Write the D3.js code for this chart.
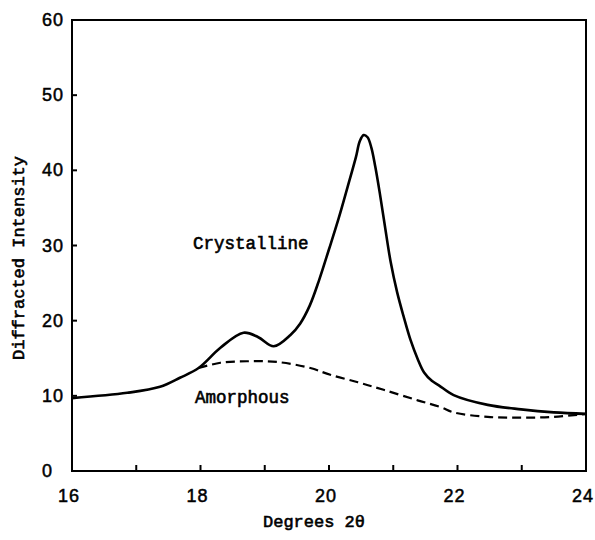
<!DOCTYPE html>
<html>
<head>
<meta charset="utf-8">
<script src="https://cdn.jsdelivr.net/npm/d3@7"></script>
<style>
html,body{margin:0;padding:0;background:#fff;}
svg{display:block;}
</style>
</head>
<body>
<svg id="chart" width="595" height="540"></svg>
<script>
// Data
const crystX = [16.0, 16.86, 17.37, 17.68, 17.97, 18.31, 18.67, 18.90, 19.14, 19.40, 19.55, 19.70, 19.85, 20.00, 20.15, 20.29, 20.42, 20.48, 20.54, 20.60, 20.66, 20.72, 20.79, 20.87, 20.96, 21.06, 21.16, 21.27, 21.38, 21.48, 21.60, 21.71, 21.94, 22.47, 22.99, 23.50, 24.0];
const crystY = [9.7, 10.4, 11.2, 12.4, 13.7, 16.4, 18.4, 17.8, 16.6, 18.1, 19.6, 22.0, 25.5, 29.5, 33.6, 37.8, 41.8, 43.9, 44.7, 44.4, 43.0, 40.5, 37.0, 32.6, 27.8, 23.8, 20.6, 17.4, 14.9, 13.1, 12.0, 11.4, 10.1, 8.8, 8.2, 7.8, 7.6];
const amorX = [17.97, 18.31, 18.73, 19.20, 19.71, 20.02, 20.45, 20.85, 21.38, 21.74, 21.94, 22.47, 22.99, 23.50, 24.0];
const amorY = [13.7, 14.4, 14.6, 14.5, 13.7, 12.8, 11.8, 10.8, 9.4, 8.5, 7.8, 7.2, 7.1, 7.2, 7.6];
const xTickLabels = [16, 18, 20, 22, 24];
const xMinorTicks = [17, 18, 19, 20, 21, 22, 23];
const yTickLabels = [0, 10, 20, 30, 40, 50, 60];
const yInnerTicks = [10, 20, 30, 40, 50];
const xTitle = "Degrees 2θ";
const yTitle = "Diffracted Intensity";
const seriesLabels = ["Crystalline", "Amorphous"];

const svg = d3.select("#chart");
const x = d3.scaleLinear().domain([16, 24]).range([72, 586]);
const y = d3.scaleLinear().domain([0, 60]).range([471, 20]);

const mono = "'Liberation Mono', 'DejaVu Sans Mono', monospace";
const sans = "'Liberation Sans', Arial, sans-serif";

// frame
svg.append("rect")
  .attr("x", x(16)).attr("y", y(60))
  .attr("width", x(24) - x(16)).attr("height", y(0) - y(60))
  .attr("fill", "none").attr("stroke", "#000").attr("stroke-width", 2);

// inner ticks
svg.append("g").selectAll("line").data(xMinorTicks).join("line")
  .attr("x1", d => x(d)).attr("x2", d => x(d))
  .attr("y1", y(0)).attr("y2", y(0) - 6)
  .attr("stroke", "#000").attr("stroke-width", 2);
svg.append("g").selectAll("line").data(yInnerTicks).join("line")
  .attr("x1", x(16)).attr("x2", x(16) + 5)
  .attr("y1", d => y(d)).attr("y2", d => y(d))
  .attr("stroke", "#000").attr("stroke-width", 2);

// tick labels
svg.append("g").selectAll("text").data(xTickLabels).join("text")
  .attr("x", d => x(d) - 3).attr("y", y(0) + 31)
  .attr("text-anchor", "middle")
  .attr("font-family", sans).attr("font-size", 18).attr("letter-spacing", 1)
  .attr("stroke", "#000").attr("stroke-width", 0.5)
  .text(d => d);
svg.append("g").selectAll("text").data(yTickLabels).join("text")
  .attr("x", 42).attr("y", d => y(d) + 6)
  .attr("text-anchor", "start")
  .attr("font-family", sans).attr("font-size", 18).attr("letter-spacing", 1)
  .attr("stroke", "#000").attr("stroke-width", 0.5)
  .text(d => d);

// axis titles
svg.append("text")
  .attr("x", 314).attr("y", 527)
  .attr("text-anchor", "middle")
  .attr("font-family", mono).attr("font-size", 17)
  .attr("stroke", "#000").attr("stroke-width", 0.6)
  .text(xTitle);
svg.append("text")
  .attr("transform", "translate(24,258) rotate(-90)")
  .attr("text-anchor", "middle")
  .attr("font-family", mono).attr("font-size", 17)
  .attr("stroke", "#000").attr("stroke-width", 0.6)
  .text(yTitle);

// curves
const line = d3.line()
  .x(d => x(d[0])).y(d => y(d[1]))
  .curve(d3.curveCatmullRom.alpha(0.5));

svg.append("path")
  .attr("d", line(d3.zip(amorX, amorY)))
  .attr("fill", "none").attr("stroke", "#000").attr("stroke-width", 2.2)
  .attr("stroke-dasharray", "9,5");

svg.append("path")
  .attr("d", line(d3.zip(crystX, crystY)))
  .attr("fill", "none").attr("stroke", "#000").attr("stroke-width", 2.6)
  .attr("stroke-linejoin", "round");

// series labels
svg.append("text")
  .attr("x", 193).attr("y", 249)
  .attr("font-family", mono).attr("font-size", 17.5)
  .attr("stroke", "#000").attr("stroke-width", 0.6)
  .text(seriesLabels[0]);
svg.append("text")
  .attr("x", 195).attr("y", 403)
  .attr("font-family", mono).attr("font-size", 17.5)
  .attr("stroke", "#000").attr("stroke-width", 0.6)
  .text(seriesLabels[1]);
</script>
</body>
</html>
